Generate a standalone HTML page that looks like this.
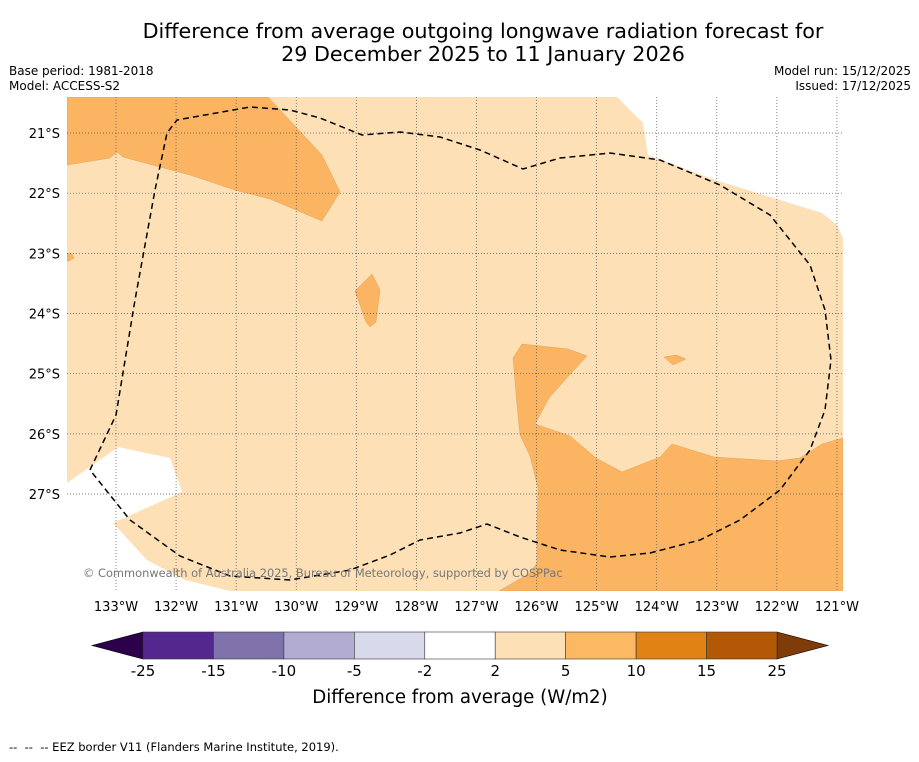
<!DOCTYPE html>
<html><head><meta charset="utf-8"><style>
body{margin:0;background:#fff;width:919px;height:758px;overflow:hidden;font-family:"DejaVu Sans","Liberation Sans",sans-serif;}
svg text{font-family:"DejaVu Sans","Liberation Sans",sans-serif;}
</style></head><body>
<svg width="919" height="758" viewBox="0 0 919 758">
<text x="483" y="38" font-size="20.7" text-anchor="middle">Difference from average outgoing longwave radiation forecast for</text>
<text x="483" y="61" font-size="20.7" text-anchor="middle">29 December 2025 to 11 January 2026</text>
<text x="9" y="75" font-size="12">Base period: 1981-2018</text>
<text x="9" y="90" font-size="12">Model: ACCESS-S2</text>
<text x="911" y="75" font-size="12" text-anchor="end">Model run: 15/12/2025</text>
<text x="911" y="90" font-size="12" text-anchor="end">Issued: 17/12/2025</text>
<defs><clipPath id="mc"><rect x="67" y="97" width="776" height="494"/></clipPath></defs>
<g clip-path="url(#mc)">
<rect x="67" y="97" width="776" height="494" fill="#fde0b6"/>
<polygon points="617,97 643,123 648,155 715,180 822,213 837,225 843,238 843,97" fill="#fff"/>
<polygon points="67,483 118,447 170,458 182,492 113,523 147,560 185,580 230,591 67,591" fill="#fff"/>
<g fill="#fbb562" stroke="#d99a50" stroke-width="0.4">
<polygon points="67,97 268,97 322,155 340,192 322,221 270,199 235,190 190,175 123,157 117,152 110,158 67,165"/>
<polygon points="355,291 372,274 380,290 376,322 370,327 366,322"/>
<polygon points="513,358 522,344 568,349 587,356 565,380 549,398 535,424 570,436 596,458 622,472 660,457 672,444 714,457 777,461 800,458 822,444 843,438 843,591 499,591 530,573 537,563 537,524 538,488 530,456 520,435 517,405"/>
<polygon points="664,357 676,355 686,359 673,365"/>
<polygon points="67,253 72,254 74,258 69,261 67,261"/>
</g>
<g id="grid" stroke="#555" stroke-width="0.7" stroke-dasharray="1,2"></g>
<path fill="none" stroke="#000" stroke-width="1.5" stroke-dasharray="6,4" d="M90,470 L116,415 L135,300 L155,190 L167,133 L177,120 L250,107 L290,110 L320,118 L362,135 L400,132 L440,137 L480,150 L523,169 L560,158 L610,153 L660,160 L720,185 L770,215 L810,265 L825,310 L831,360 L825,410 L810,450 L780,490 L740,520 L700,540 L650,553 L610,557 L560,550 L520,537 L487,524 L460,533 L420,540 L390,555 L350,570 L290,580 L230,576 L180,556 L130,520 Z"/>
<text x="83" y="577" font-size="11.4" fill="#777">© Commonwealth of Australia 2025, Bureau of Meteorology, supported by COSPPac</text>
</g>
<g id="lonlabels" font-size="13" text-anchor="middle"></g>
<g id="latlabels" font-size="13" text-anchor="end"></g>
<g id="cbar"></g>
<text x="460" y="703" font-size="18.2" text-anchor="middle">Difference from average (W/m2)</text>
<text x="9" y="751" font-size="11.5" xml:space="preserve">--  --  -- EEZ border V11 (Flanders Marine Institute, 2019).</text>
</svg>
<script>
const lonTicks=[133,132,131,130,129,128,127,126,125,124,123,122,121];
const latTicks=[21,22,23,24,25,26,27];
const cbLevels=["-25","-15","-10","-5","-2","2","5","10","15","25"];
const cbColors=["#54278f","#8073ac","#b2abd2","#d8daeb","#ffffff","#fee0b6","#fdb863","#e08214","#b35806"];
const NS="http://www.w3.org/2000/svg";
const lx=w=>116+(133-w)*60.08, ly=s=>133+(s-21)*60.17;
function mk(t,a,p){const e=document.createElementNS(NS,t);for(const k in a)e.setAttribute(k,a[k]);p.appendChild(e);return e;}
const grid=document.getElementById('grid'),ll=document.getElementById('lonlabels'),la=document.getElementById('latlabels');
lonTicks.forEach(w=>{const l=mk('line',{x1:lx(w),x2:lx(w),y1:97,y2:591},grid);


const t=mk('text',{x:lx(w),y:611},ll);t.textContent=w+'°W';

});
latTicks.forEach(s=>{const l=mk('line',{x1:67,x2:843,y1:ly(s),y2:ly(s)},grid);


const t=mk('text',{x:60,y:ly(s)+5},la);t.textContent=s+'°S';

});
const cb=document.getElementById('cbar');const x0=143,x1=777,step=(x1-x0)/cbColors.length,y0=632,h=27;
const lt=mk('polygon',{points:`${x0},${y0} 92,${y0+h/2} ${x0},${y0+h}`,fill:'#2d004b',stroke:'#000','stroke-width':0.6},cb);


const rt=mk('polygon',{points:`${x1},${y0} 828,${y0+h/2} ${x1},${y0+h}`,fill:'#7f3b08',stroke:'#000','stroke-width':0.6},cb);


cbColors.forEach((c,i)=>{const r=mk('rect',{x:x0+i*step,y:y0,width:step,height:h,fill:c,stroke:'#333','stroke-width':0.6},cb);

});
cbLevels.forEach((v,i)=>{const t=mk('text',{x:x0+i*step,y:676,'font-size':15,'text-anchor':'middle'},cb);t.textContent=v;

});
</script>
</body></html>
